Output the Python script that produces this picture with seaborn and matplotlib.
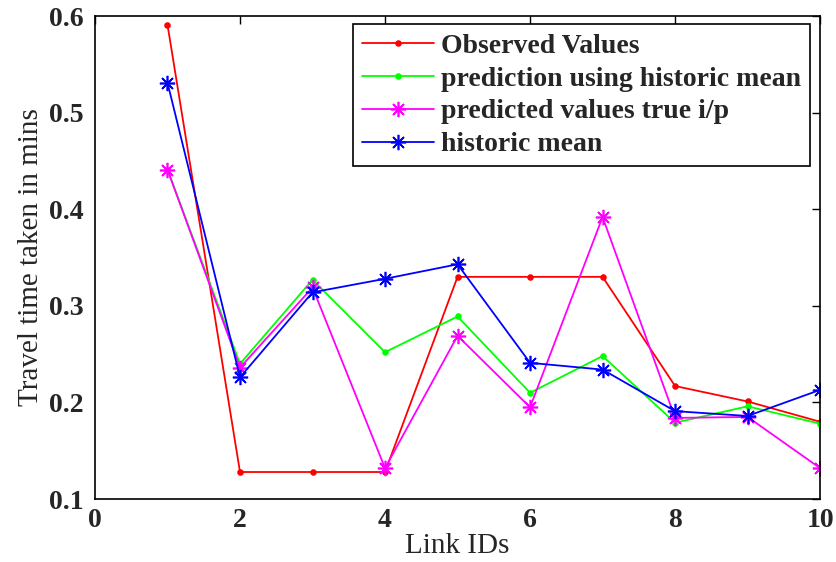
import matplotlib
matplotlib.use("Agg")
import matplotlib.pyplot as plt
import seaborn as sns
import pandas as pd

link_ids = [1, 2, 3, 4, 5, 6, 7, 8, 9, 10]
observed = [0.591, 0.128, 0.128, 0.128, 0.330, 0.330, 0.330, 0.217, 0.201, 0.180]
pred_hist_mean = [0.441, 0.240, 0.327, 0.252, 0.289, 0.210, 0.248, 0.179, 0.196, 0.178]
pred_true_ip = [0.441, 0.236, 0.319, 0.132, 0.269, 0.195, 0.392, 0.184, 0.185, 0.132]
historic_mean = [0.531, 0.226, 0.314, 0.328, 0.343, 0.241, 0.234, 0.191, 0.186, 0.213]

x_ticks = [0, 2, 4, 6, 8, 10]
y_ticks = [0.1, 0.2, 0.3, 0.4, 0.5, 0.6]

series_names = ["Observed Values", "prediction using historic mean",
                "predicted values true i/p", "historic mean"]
series_values = [observed, pred_hist_mean, pred_true_ip, historic_mean]
colors = ["#ff0000", "#00ff00", "#ff00ff", "#0000ff"]
asterisk = (8, 2, 0)
markers = [".", ".", asterisk, asterisk]
msizes = [7, 7, 11, 11]

sns.set_style("white")
plt.rcParams["font.family"] = ["Liberation Serif", "DejaVu Serif"]

fig = plt.figure(figsize=(8.36, 5.62), dpi=100)
ax = fig.add_axes([0.1136, 0.112, 0.8674, 0.8595])

for name, vals, c, m, ms in zip(series_names, series_values, colors, markers, msizes):
    df = pd.DataFrame({"Link IDs": link_ids, "value": vals})
    sns.lineplot(data=df, x="Link IDs", y="value", ax=ax, color=c, marker=m,
                 markersize=ms, markeredgecolor=c, markerfacecolor=c,
                 markeredgewidth=1.2, linewidth=1.3, label=name)

ax.set_xlim(0, 10)
ax.set_ylim(0.1, 0.6)
ax.set_xticks(x_ticks)
ax.set_yticks(y_ticks)
ax.set_xticklabels([f"{v:g}" for v in x_ticks])
ax.set_yticklabels([f"{v:.1f}" for v in y_ticks])
ax.tick_params(direction="in", length=6, width=1, top=True, right=True,
               labelsize=20, color="black")
ax.tick_params(axis="y", pad=8.5)
ax.tick_params(axis="x", pad=6.5)
for lbl in ax.get_xticklabels() + ax.get_yticklabels():
    lbl.set_fontweight("bold")
for sp in ax.spines.values():
    sp.set_visible(True)
    sp.set_color("black")
    sp.set_linewidth(1.2)

ax.set_xlabel("Link IDs", fontsize=21, labelpad=0)
ax.set_ylabel("Travel time taken in mins", fontsize=21, labelpad=3)

leg = ax.legend(loc="upper right", bbox_to_anchor=(0.986, 0.983),
                borderaxespad=0,
                prop={"size": 20, "weight": "bold"}, frameon=True,
                fancybox=False, edgecolor="black", framealpha=1,
                handlelength=2.6, handletextpad=0.25, labelspacing=0.27,
                borderpad=0.32)
leg.get_frame().set_linewidth(1.2)

fig.savefig("out.png", dpi=100)
